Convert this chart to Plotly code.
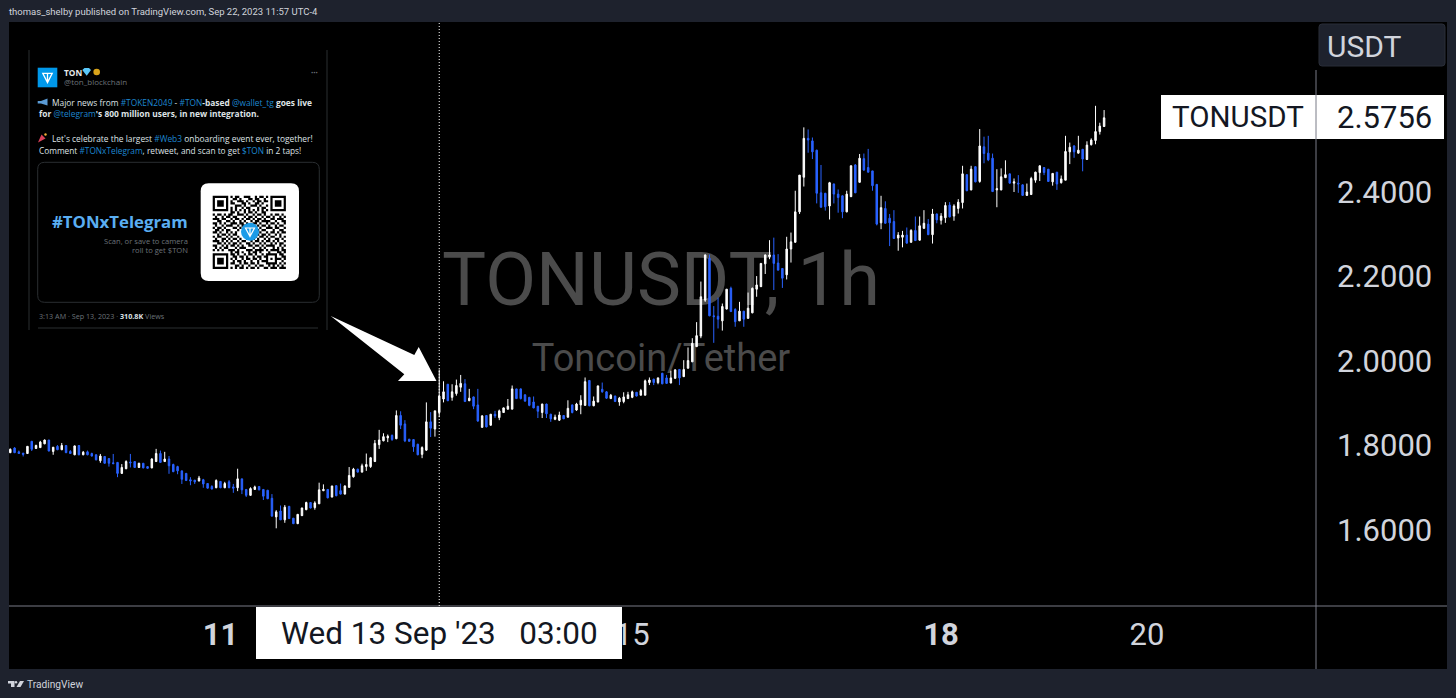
import pandas as pd
import plotly.graph_objects as go

# ---------- data ----------
first_bar = "2023-09-08 23:00"
crosshair_time = "2023-09-13 03:00"
axis_start = "2023-09-08 22:42"
axis_end = "2023-09-21 15:24"
price_min, price_max = 1.4201, 2.8024
price_ticks = [1.6, 1.8, 2.0, 2.2, 2.4]
date_ticks = ["2023-09-11", "2023-09-15", "2023-09-18", "2023-09-20"]
date_labels = ["<b>11</b>", "15", "<b>18</b>", "20"]
last_price = "2.5756"
symbol = "TONUSDT"
crosshair_label = "Wed 13 Sep '23\u00a0\u00a0\u00a003:00"

opens = [
1.783,1.794,1.785,1.782,1.781,1.810,1.793,1.795,1.804,1.813,
1.786,1.798,1.790,1.800,1.786,1.778,1.800,1.778,1.785,1.781,
1.778,1.764,1.774,1.769,1.759,1.760,1.734,1.745,1.761,1.762,
1.748,1.758,1.750,1.747,1.762,1.781,1.762,1.768,1.755,1.750,
1.740,1.734,1.719,1.718,1.716,1.719,1.710,1.703,1.700,1.715,
1.700,1.714,1.702,1.700,1.721,1.696,1.682,1.696,1.703,1.696,
1.694,1.675,1.631,1.645,1.624,1.656,1.628,1.615,1.634,1.648,
1.665,1.653,1.662,1.693,1.696,1.678,1.705,1.693,1.685,1.701,
1.726,1.744,1.737,1.750,1.750,1.762,1.802,1.811,1.818,1.824,
1.816,1.871,1.851,1.815,1.814,1.803,1.779,1.789,1.856,1.839,
1.878,1.910,1.945,1.914,1.923,1.938,1.946,1.906,1.915,1.896,
1.843,1.871,1.848,1.874,1.866,1.878,1.886,1.886,1.934,1.934,
1.920,1.914,1.903,1.893,1.878,1.898,1.874,1.862,1.860,1.871,
1.867,1.896,1.884,1.896,1.895,1.954,1.894,1.903,1.933,1.927,
1.911,1.917,1.903,1.904,1.911,1.914,1.926,1.919,1.919,1.949,
1.957,1.949,1.971,1.960,1.948,1.959,1.980,1.963,1.983,1.998,
2.034,2.059,2.144,2.243,2.107,2.106,2.095,2.123,2.172,2.122,
2.095,2.118,2.101,2.114,2.170,2.176,2.230,2.247,2.251,2.232,
2.219,2.204,2.265,2.281,2.353,2.435,2.527,2.521,2.499,2.398,
2.397,2.367,2.419,2.395,2.391,2.353,2.389,2.464,2.423,2.479,
2.458,2.450,2.418,2.327,2.361,2.338,2.330,2.291,2.293,2.298,
2.281,2.309,2.286,2.314,2.324,2.299,2.348,2.333,2.339,2.369,
2.343,2.361,2.375,2.441,2.405,2.460,2.425,2.507,2.492,2.480,
2.405,2.405,2.434,2.443,2.421,2.421,2.417,2.392,2.394,2.428,
2.446,2.458,2.454,2.424,2.447,2.422,2.428,2.495,2.509,2.492,
2.501,2.477,2.512,2.522,2.543,2.555]

highs = [
1.793,1.796,1.788,1.782,1.798,1.810,1.802,1.811,1.814,1.813,
1.796,1.801,1.806,1.800,1.789,1.800,1.801,1.787,1.788,1.783,
1.779,1.780,1.774,1.770,1.780,1.761,1.756,1.765,1.780,1.763,
1.759,1.758,1.751,1.770,1.792,1.788,1.785,1.775,1.757,1.752,
1.740,1.735,1.725,1.718,1.728,1.721,1.711,1.706,1.720,1.716,
1.714,1.718,1.709,1.745,1.721,1.697,1.701,1.705,1.703,1.696,
1.695,1.685,1.647,1.658,1.659,1.657,1.628,1.638,1.653,1.667,
1.666,1.668,1.712,1.708,1.697,1.705,1.706,1.710,1.706,1.749,
1.747,1.745,1.757,1.781,1.773,1.813,1.837,1.829,1.826,1.826,
1.883,1.881,1.860,1.815,1.815,1.804,1.798,1.902,1.879,1.882,
1.980,1.952,1.945,1.945,1.956,1.967,1.957,1.934,1.916,1.934,
1.872,1.871,1.874,1.882,1.885,1.890,1.910,1.942,1.934,1.935,
1.921,1.915,1.916,1.893,1.899,1.899,1.875,1.873,1.880,1.872,
1.907,1.897,1.901,1.919,1.961,1.955,1.916,1.942,1.949,1.929,
1.922,1.918,1.915,1.926,1.927,1.930,1.926,1.934,1.956,1.961,
1.958,1.961,1.972,1.967,1.977,1.980,1.981,2.002,2.032,2.054,
2.092,2.188,2.252,2.252,2.130,2.150,2.136,2.170,2.176,2.125,
2.140,2.118,2.162,2.174,2.201,2.232,2.252,2.286,2.292,2.253,
2.220,2.294,2.304,2.403,2.440,2.553,2.548,2.529,2.500,2.464,
2.398,2.424,2.420,2.406,2.392,2.403,2.463,2.466,2.490,2.491,
2.502,2.450,2.419,2.391,2.378,2.348,2.357,2.305,2.308,2.316,
2.312,2.342,2.342,2.357,2.336,2.360,2.349,2.350,2.376,2.376,
2.371,2.383,2.462,2.442,2.462,2.461,2.549,2.531,2.533,2.491,
2.454,2.456,2.475,2.443,2.432,2.440,2.418,2.420,2.436,2.448,
2.463,2.458,2.454,2.445,2.447,2.439,2.533,2.517,2.511,2.533,
2.502,2.520,2.527,2.604,2.564,2.594]

lows = [
1.782,1.782,1.780,1.774,1.780,1.787,1.792,1.794,1.803,1.786,
1.778,1.789,1.789,1.782,1.780,1.777,1.777,1.777,1.777,1.774,
1.765,1.759,1.757,1.750,1.756,1.725,1.733,1.744,1.748,1.747,
1.747,1.746,1.745,1.746,1.761,1.759,1.761,1.733,1.737,1.732,
1.709,1.716,1.706,1.709,1.715,1.700,1.698,1.696,1.699,1.699,
1.699,1.699,1.688,1.692,1.685,1.678,1.681,1.695,1.694,1.671,
1.673,1.631,1.604,1.624,1.617,1.626,1.614,1.614,1.633,1.647,
1.651,1.648,1.662,1.692,1.675,1.677,1.680,1.684,1.684,1.700,
1.724,1.736,1.736,1.740,1.747,1.761,1.792,1.810,1.808,1.811,
1.815,1.839,1.808,1.809,1.785,1.777,1.770,1.787,1.820,1.821,
1.867,1.902,1.905,1.906,1.918,1.927,1.903,1.905,1.886,1.856,
1.842,1.843,1.847,1.865,1.860,1.877,1.885,1.886,1.910,1.909,
1.904,1.893,1.888,1.865,1.865,1.865,1.856,1.860,1.858,1.863,
1.866,1.876,1.882,1.874,1.894,1.893,1.893,1.902,1.925,1.910,
1.910,1.903,1.894,1.900,1.910,1.912,1.916,1.919,1.919,1.943,
1.943,1.945,1.945,1.946,1.947,1.958,1.943,1.962,1.982,1.998,
2.033,2.054,2.140,2.106,2.043,2.077,2.072,2.122,2.116,2.081,
2.095,2.081,2.100,2.113,2.152,2.175,2.206,2.241,2.168,2.215,
2.173,2.193,2.233,2.280,2.348,2.413,2.493,2.478,2.373,2.363,
2.356,2.335,2.373,2.351,2.338,2.352,2.388,2.398,2.422,2.450,
2.446,2.403,2.321,2.312,2.325,2.272,2.289,2.261,2.269,2.278,
2.280,2.284,2.285,2.313,2.298,2.278,2.326,2.323,2.327,2.340,
2.332,2.349,2.361,2.402,2.404,2.423,2.422,2.468,2.473,2.400,
2.364,2.404,2.433,2.420,2.400,2.398,2.391,2.391,2.393,2.422,
2.426,2.440,2.424,2.415,2.405,2.420,2.428,2.466,2.481,2.491,
2.449,2.476,2.510,2.513,2.536,2.554]

closes = [
1.791,1.783,1.781,1.779,1.798,1.791,1.800,1.808,1.813,1.787,
1.796,1.790,1.800,1.783,1.781,1.799,1.778,1.784,1.778,1.775,
1.766,1.775,1.758,1.758,1.757,1.734,1.748,1.762,1.759,1.748,
1.758,1.747,1.746,1.768,1.781,1.760,1.768,1.752,1.738,1.740,
1.720,1.717,1.716,1.714,1.723,1.709,1.699,1.697,1.717,1.700,
1.710,1.700,1.699,1.721,1.695,1.682,1.698,1.702,1.695,1.680,
1.674,1.633,1.643,1.624,1.654,1.627,1.615,1.637,1.652,1.665,
1.652,1.664,1.695,1.696,1.676,1.704,1.681,1.685,1.704,1.729,
1.744,1.737,1.752,1.755,1.771,1.805,1.813,1.821,1.822,1.814,
1.871,1.848,1.811,1.810,1.797,1.778,1.795,1.856,1.841,1.882,
1.917,1.927,1.906,1.927,1.942,1.947,1.904,1.912,1.893,1.858,
1.870,1.844,1.874,1.870,1.882,1.889,1.893,1.934,1.911,1.911,
1.905,1.895,1.889,1.881,1.898,1.875,1.863,1.867,1.872,1.863,
1.888,1.878,1.898,1.907,1.951,1.894,1.905,1.941,1.927,1.912,
1.919,1.904,1.912,1.915,1.920,1.927,1.917,1.930,1.953,1.955,
1.949,1.960,1.946,1.947,1.960,1.979,1.960,1.980,2.001,2.042,
2.060,2.152,2.251,2.107,2.105,2.099,2.129,2.170,2.117,2.093,
2.118,2.099,2.125,2.172,2.180,2.231,2.251,2.251,2.231,2.215,
2.196,2.265,2.282,2.353,2.440,2.527,2.523,2.495,2.397,2.364,
2.365,2.422,2.395,2.387,2.353,2.395,2.462,2.398,2.480,2.452,
2.447,2.415,2.324,2.363,2.326,2.327,2.290,2.298,2.298,2.279,
2.309,2.285,2.320,2.326,2.299,2.348,2.334,2.343,2.368,2.341,
2.367,2.376,2.443,2.403,2.454,2.424,2.509,2.491,2.476,2.401,
2.408,2.436,2.441,2.421,2.424,2.419,2.392,2.400,2.432,2.447,
2.462,2.446,2.425,2.444,2.419,2.431,2.496,2.506,2.495,2.499,
2.478,2.511,2.523,2.543,2.556,2.5756]

qr_rows = [
"111111101011001110010110101111111",
"100000100110100011011001001000001",
"101110101001110100101101101011101",
"101110101100011010011010001011101",
"101110100011101001110100101011101",
"100000101010010110001011001000001",
"111111101010101010101010101111111",
"000000001101001011010011000000000",
"101101011001110100101101001011010",
"010010110110001011010010110100101",
"111011001011010110101101001101110",
"001100110100101001011011110010011",
"110101001110110100110100101101001",
"010010111001011010001011010010110",
"101101000110100101110100111011001",
"011010110001000000111011000100110",
"110100101010000000010100101101011",
"001011010110000000101011010010100",
"101100101001000000010110101100101",
"010011010110100110101001010011010",
"111010101001011001011010110101001",
"001101010110100110100101001010110",
"110010101101010011011010111100101",
"010101100010111000100101000101010",
"101010011101000111011110101111011",
"000000001011010010110100010001101",
"111111101101001011010010111110110",
"100000100110110100101101100010011",
"101110101010010110110100101011101",
"101110100101101001001011100010010",
"101110101100101101101000111110101",
"100000100011010010010110010101010",
"111111101010110101101001101110111",
]

# ---------- colours / fonts ----------
FRAME = "#1e222d"
UP = "#ffffff"
DOWN = "#2962ff"
AXIS = "#787b86"
TXT = "#d1d4dc"
WM = "#4b4b4b"
TW_BLUE = "#1d86cf"
TW_TXT = "#dfe3e6"
TW_GRAY = "#6b7278"
TW_LINE = "#2a2e31"
FONT = "Roboto"
W, H = 1456, 698
PL, PR, PT, PB = 9, 1316, 22, 606


def X(p):
    return (p - PL) / (PR - PL)


def Y(p):
    return (PB - p) / (PB - PT)


def poly(pts, close=True):
    s = "M " + " L ".join(f"{X(a):.5f},{Y(b):.5f}" for a, b in pts)
    return s + (" Z" if close else "")


def rrect(x0, y0, x1, y1, r):
    c = lambda a, b: f"{X(a):.5f},{Y(b):.5f}"
    return (f"M {c(x0+r,y0)} L {c(x1-r,y0)} Q {c(x1,y0)} {c(x1,y0+r)} L {c(x1,y1-r)} "
            f"Q {c(x1,y1)} {c(x1-r,y1)} L {c(x0+r,y1)} Q {c(x0,y1)} {c(x0,y1-r)} "
            f"L {c(x0,y0+r)} Q {c(x0,y0)} {c(x0+r,y0)} Z")


shapes = []


def add_path(path, fill=None, line=None, lw=0, layer="below"):
    shapes.append(dict(type="path", xref="paper", yref="paper", path=path, layer=layer,
                       fillcolor=fill if fill else "rgba(0,0,0,0)",
                       line=dict(color=line if line else "rgba(0,0,0,0)", width=lw)))


def add_rect(x0, y0, x1, y1, fill, layer="below"):
    shapes.append(dict(type="rect", xref="paper", yref="paper", x0=X(x0), x1=X(x1), y0=Y(y0), y1=Y(y1),
                       fillcolor=fill, line=dict(width=0), layer=layer))


def add_circle(cx, cy, r, fill, layer="below"):
    shapes.append(dict(type="circle", xref="paper", yref="paper", x0=X(cx - r), x1=X(cx + r),
                       y0=Y(cy + r), y1=Y(cy - r), fillcolor=fill, line=dict(width=0), layer=layer))


def add_line(x0, y0, x1, y1, color, layer="below", width=1):
    shapes.append(dict(type="line", xref="paper", yref="paper", x0=X(x0), x1=X(x1), y0=Y(y0), y1=Y(y1),
                       line=dict(color=color, width=width), layer=layer))


annotations = []


def note(text, x, y, size, color, anchor="left", family=FONT):
    annotations.append(dict(text=text, x=X(x), y=Y(y), xref="paper", yref="paper", showarrow=False,
                            xanchor=anchor, yanchor="middle", align=anchor, borderpad=0,
                            font=dict(size=size, color=color, family=family)))


def ton_glyph(x0, y0, x1, y1, color, lw):
    mx = (x0 + x1) / 2
    add_path(poly([(x0, y0), (x1, y0), (mx, y1)]) + " " + poly([(mx, y0), (mx, y1)], close=False),
             line=color, lw=lw)


# black chart pane
add_rect(9, 22, 1447, 669, "#000000")

# watermark, drawn under the candles
for txt, cy, size in [("TONUSDT, 1h", 274, 74), ("Toncoin/Tether", 355, 38)]:
    shapes.append(dict(type="rect", xref="paper", yref="paper", x0=X(400), x1=X(922), y0=Y(cy + 40), y1=Y(cy - 40),
                       line=dict(width=0), fillcolor="rgba(0,0,0,0)", layer="below",
                       label=dict(text=txt, textposition="middle center",
                                  font=dict(size=size, color=WM, family=FONT))))

# tweet card
add_line(29, 50, 29, 330, TW_LINE)
add_line(327, 50, 327, 330, TW_LINE)
add_line(38, 328, 318, 328, TW_LINE)
add_rect(37.7, 67.7, 57.3, 87.3, "#0098ea")
ton_glyph(42.8, 73.4, 52.2, 82.6, "#ffffff", 1.3)
add_path(poly([(82.3, 70), (84.5, 68), (89, 68), (91, 70), (86.7, 75.7)]), fill="#5ac8fa")
add_circle(96.7, 72, 3.3, "#d8a31a")
add_path(poly([(37.7, 101), (41, 101), (47.5, 98.5), (47.5, 105.5), (41, 103.5), (37.7, 103.5)]), fill="#5b9bd5")
add_path(poly([(38, 142.5), (41.5, 134.5), (45.5, 138.5)]), fill="#d9415a")
add_circle(45.5, 134.5, 1.2, "#f2b134")
add_path(rrect(37.7, 162.3, 319.3, 302.3, 7), fill="#000000", line=TW_LINE, lw=1)
add_path(rrect(200.7, 183.3, 299, 281, 8), fill="#ffffff")
qr_x0, qr_y0, qr_m = 212.7, 195.7, 73.2 / 33
qr_path = []
for j, row in enumerate(qr_rows):
    for i, ch in enumerate(row):
        if ch == "1":
            a, b = qr_x0 + i * qr_m, qr_y0 + j * qr_m
            qr_path.append(poly([(a, b), (a + qr_m, b), (a + qr_m, b + qr_m), (a, b + qr_m)]))
add_path(" ".join(qr_path), fill="#000000")
add_circle(250, 231.7, 9, "#1c9be8")
ton_glyph(245.5, 228, 254.5, 236.5, "#ffffff", 1.2)

# tweet text
note("<b>TON</b>", 63.3, 72, 8.3, "#e7e9ea", family="Open Sans")
note("@ton_blockchain", 63.3, 82, 8, TW_GRAY, family="Open Sans")
note("<b>···</b>", 314, 72, 8, TW_GRAY, anchor="center", family="Open Sans")


def blue(s):
    return f'<span style="color:{TW_BLUE}">{s}</span>'


note(f"Major news from {blue('#TOKEN2049')} - {blue('#TON')}<b>-based</b> {blue('@wallet_tg')} <b>goes live</b>",
     50.7, 102, 8.4, TW_TXT, family="Open Sans")
note(f"<b>for</b> {blue('@telegram')}<b>'s 800 million users, in new integration.</b>",
     37.7, 114, 8.4, TW_TXT, family="Open Sans")
note(f"Let's celebrate the largest {blue('#Web3')} onboarding event ever, together!",
     50.7, 138, 8.4, TW_TXT, family="Open Sans")
note(f"Comment {blue('#TONxTelegram')}, retweet, and scan to get {blue('$TON')} in 2 taps!",
     37.7, 150, 8.3, TW_TXT, family="Open Sans")
note("<b>#TONxTelegram</b>", 189.3, 221.7, 16.8, "#5aaef2", anchor="right", family="Open Sans")
note("Scan, or save to camera", 189.3, 240.7, 7.6, TW_GRAY, anchor="right", family="Open Sans")
note("roll to get $TON", 189.3, 250.3, 7.6, TW_GRAY, anchor="right", family="Open Sans")
note(f"3:13 AM · Sep 13, 2023 · <b><span style='color:#dfe3e6'>310.8K</span></b> Views",
     37.7, 315.7, 7.2, TW_GRAY, family="Open Sans")

# axis separators
add_line(1316, 70, 1316, 669, AXIS, layer="above")
add_line(9, 606, 1447, 606, AXIS, layer="above")

# crosshair
shapes.append(dict(type="line", xref="x", yref="paper", x0=crosshair_time, x1=crosshair_time, y0=Y(606), y1=Y(22),
                   line=dict(color="#ffffff", width=1, dash="1px,2px"), layer="above"))

# arrow
add_path(poly([(330.7, 316), (414.3, 355), (418.7, 347), (436.5, 381), (398, 381), (404.3, 374.3)]),
         fill="#ffffff", layer="above")

# labels on the axes
add_path(rrect(1319, 24, 1445, 66, 3), fill=FRAME, line="#2a2e39", lw=1)
note("USDT", 1326, 46, 30, TXT)

add_rect(1161, 95, 1444, 139, "#ffffff", layer="above")
add_line(1316, 95, 1316, 139, AXIS, layer="above")
note(symbol, 1170.5, 117, 29.5, "#131722")
note(last_price, 1336, 117, 31, "#131722")

add_rect(256, 607, 622, 659, "#ffffff", layer="above")
note(crosshair_label, 439, 633, 31.5, "#131722", anchor="center")

# header and footer
note("thomas_shelby published on TradingView.com, Sep 22, 2023 11:57 UTC-4", 8, 11.5, 9.5, TXT)
add_path(poly([(8, 681), (14.5, 681), (14.5, 687), (11, 687), (11, 683.5), (8, 683.5)]), fill=TXT)
add_circle(16, 682.2, 1.2, TXT)
add_path(poly([(20, 681), (24, 681), (20.5, 687), (16.5, 687)]), fill=TXT)
note("TradingView", 26, 684, 10.2, TXT)

times = pd.date_range(first_bar, periods=len(closes), freq="h")

fig = go.Figure(go.Candlestick(
    x=times, open=opens, high=highs, low=lows, close=closes,
    increasing=dict(line=dict(color=UP, width=1), fillcolor=UP),
    decreasing=dict(line=dict(color=DOWN, width=1), fillcolor=DOWN),
    whiskerwidth=0, hoverinfo="skip", showlegend=False,
))

fig.update_layout(
    width=W, height=H, autosize=False,
    margin=dict(l=PL, r=W - PR, t=PT, b=H - PB, pad=0, autoexpand=False),
    paper_bgcolor=FRAME, plot_bgcolor="#000000",
    font=dict(family=FONT, color=TXT),
    showlegend=False, hovermode=False, boxgap=0.5,
    shapes=shapes, annotations=annotations,
    xaxis=dict(type="date", range=[axis_start, axis_end], rangeslider=dict(visible=False),
               tickmode="array", tickvals=date_ticks, ticktext=date_labels,
               tickfont=dict(size=31, color=TXT, family=FONT), ticks="", ticklabelstandoff=7,
               showgrid=False, zeroline=False, showline=False),
    yaxis=dict(side="right", range=[price_min, price_max], tickmode="array", tickvals=price_ticks,
               tickformat=".4f", tickfont=dict(size=31, color=TXT, family=FONT), ticks="",
               ticklabelstandoff=20, showgrid=False, zeroline=False, showline=False),
)

fig.write_html("out.html", config=dict(displayModeBar=False),
               post_script="document.body.style.margin='0';document.documentElement.style.overflow='hidden';")
